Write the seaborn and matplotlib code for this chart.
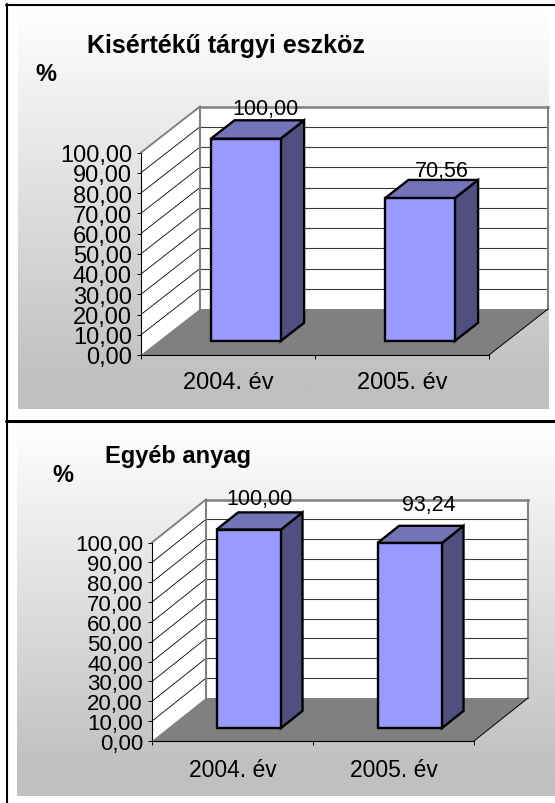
import numpy as np
import seaborn as sns
import matplotlib
matplotlib.use("Agg")
import matplotlib.pyplot as plt
from matplotlib.colors import LinearSegmentedColormap
from matplotlib.patches import Polygon
from matplotlib.transforms import Affine2D, IdentityTransform

years = ["2004. év", "2005. év"]
values_kisertek = [100.00, 70.56]
values_egyeb = [100.00, 93.24]
y_ticks = [0, 10, 20, 30, 40, 50, 60, 70, 80, 90, 100]

W, H = 555, 804
FRONT, SIDE, TOP = "#9999ff", "#4f4f80", "#7373b8"

sns.set_theme(style="white")
plt.rcParams["font.family"] = ["Liberation Sans", "DejaVu Sans"]


def comma(v):
    return f"{v:.2f}".replace(".", ",")


def panel(fig, values, box, depth, ysize, xsize, label_size, label_off, xpad):
    # box = left, top, right, bottom of the front plane in image pixels
    left, top, right, bottom = box
    ax = fig.add_axes([left / W, 1 - bottom / H, (right - left) / W, (bottom - top) / H])
    ax.patch.set_visible(False)
    sns.barplot(x=years, y=values, color=FRONT, saturation=1, width=0.4,
                edgecolor="black", linewidth=1.7, ax=ax, zorder=5)
    bars = list(ax.patches)
    ax.set_xlim(-0.5, 1.5)
    ax.set_ylim(0, 100)
    ax.set_autoscale_on(False)
    dx, dy = depth

    def proj(x, y, d=0.0):
        px = ax.transData.transform((x, y))
        return (px[0] + d * dx, px[1] + d * dy)

    def poly(pts, **kw):
        ax.add_patch(Polygon(pts, closed=True, transform=IdentityTransform(), clip_on=False, **kw))

    def line(a, b, color, lw, z=2):
        ax.plot([a[0], b[0]], [a[1], b[1]], color=color, lw=lw, transform=IdentityTransform(),
                clip_on=False, zorder=z, solid_capstyle="projecting")

    # walls and floor
    poly([proj(-0.5, 0, 1), proj(1.5, 0, 1), proj(1.5, 100, 1), proj(-0.5, 100, 1)], fc="white", ec="none", zorder=1)
    poly([proj(-0.5, 0), proj(-0.5, 0, 1), proj(-0.5, 100, 1), proj(-0.5, 100)], fc="white", ec="none", zorder=1)
    for v in y_ticks[1:-1]:
        line(proj(-0.5, v), proj(-0.5, v, 1), "black", 0.6)
        line(proj(-0.5, v, 1), proj(1.5, v, 1), "#3a3a3a", 0.8)
    poly([proj(-0.5, 0), proj(1.5, 0), proj(1.5, 0, 1), proj(-0.5, 0, 1)], fc="#808080", ec="none", zorder=3)
    line(proj(-0.5, 100), proj(-0.5, 100, 1), "#808080", 1.4)
    line(proj(-0.5, 100, 1), proj(1.5, 100, 1), "#808080", 1.8)
    line(proj(-0.5, 0, 1), proj(-0.5, 100, 1), "#808080", 1.5)
    line(proj(1.5, 0, 1), proj(1.5, 100, 1), "#808080", 1.5)
    line(proj(1.5, 0), proj(1.5, 0, 1), "black", 0.7, z=4)

    # bars: the seaborn rectangles get pushed back, sides and tops added from them
    d0, d1 = 0.3, 0.7
    for bar in bars:
        x0, x1 = bar.get_x(), bar.get_x() + bar.get_width()
        h = bar.get_height()
        bar.set_transform(ax.transData + Affine2D().translate(d0 * dx, d0 * dy))
        bar.set_clip_on(False)
        poly([proj(x1, 0, d0), proj(x1, 0, d1), proj(x1, h, d1), proj(x1, h, d0)],
             fc=SIDE, ec="black", lw=1.7, zorder=4.5, joinstyle="miter")
        poly([proj(x0, h, d0), proj(x0, h, d1), proj(x1, h, d1), proj(x1, h, d0)],
             fc=TOP, ec="black", lw=1.7, zorder=4.5, joinstyle="miter")

    for i, v in enumerate(values):
        ax.annotate(comma(v), xy=(i, v), xytext=label_off[i], textcoords="offset pixels",
                    ha="center", va="center", fontsize=label_size, color="black",
                    annotation_clip=False, zorder=7)

    # axis
    ax.set_yticks(y_ticks)
    ax.set_yticklabels([comma(v) for v in y_ticks])
    ax.set_xticks([-0.5, 0.5, 1.5], minor=True)
    ax.tick_params(axis="y", left=True, length=3, width=0.7, color="black", pad=3.5,
                   labelsize=ysize, labelcolor="black")
    ax.tick_params(axis="x", which="major", bottom=False, length=0, pad=xpad,
                   labelsize=xsize, labelcolor="black")
    ax.tick_params(axis="x", which="minor", bottom=True, length=3, width=0.7, color="black")
    for name in ["top", "right"]:
        ax.spines[name].set_visible(False)
    for name in ["left", "bottom"]:
        ax.spines[name].set_color("black")
        ax.spines[name].set_linewidth(0.8)
        ax.spines[name].set_zorder(6)
    ax.set_xlabel("")
    ax.set_ylabel("")
    return ax


fig = plt.figure(figsize=(W / 100, H / 100), dpi=100, facecolor="white")

bg = fig.add_axes([0, 0, 1, 1], zorder=-1)
fade = LinearSegmentedColormap.from_list("fade", [(0, "#ffffff"), (0.93, "#c0c0c0"), (1, "#c0c0c0")])
ramp = np.linspace(0, 1, 256)[:, None]
bg.imshow(ramp, cmap=fade, aspect="auto", extent=(18, 549, 410, 8))
bg.imshow(ramp, cmap=fade, aspect="auto", extent=(17, 555, 797, 423))
bg.set_xlim(0, W)
bg.set_ylim(H, 0)
bg.axis("off")
bg.plot([7, 7], [5, 804], color="black", lw=1.5)
bg.plot([6, 555], [6, 6], color="black", lw=1.5)
bg.plot([6, 555], [421.5, 421.5], color="black", lw=2.2)
bg.text(87, 53, "Kisértékű tárgyi eszköz", fontsize=18, fontweight="bold", ha="left", va="baseline", color="black")
bg.text(35, 81, "%", fontsize=17, fontweight="bold", ha="left", va="baseline", color="black")
bg.text(105, 463, "Egyéb anyag", fontsize=17, fontweight="bold", ha="left", va="baseline", color="black")
bg.text(52, 482, "%", fontsize=17, fontweight="bold", ha="left", va="baseline", color="black")

panel(fig, values_kisertek, (141, 153.5, 489, 356), (59, 46), 17, 17, 15.5, [(37, 44), (40, 42)], 11.5)
panel(fig, values_egyeb, (152, 543.5, 474, 742), (54, 43), 16, 16.5, 15.5, [(27.5, 44), (35, 51)], 12)

fig.savefig("out.png", dpi=100)
